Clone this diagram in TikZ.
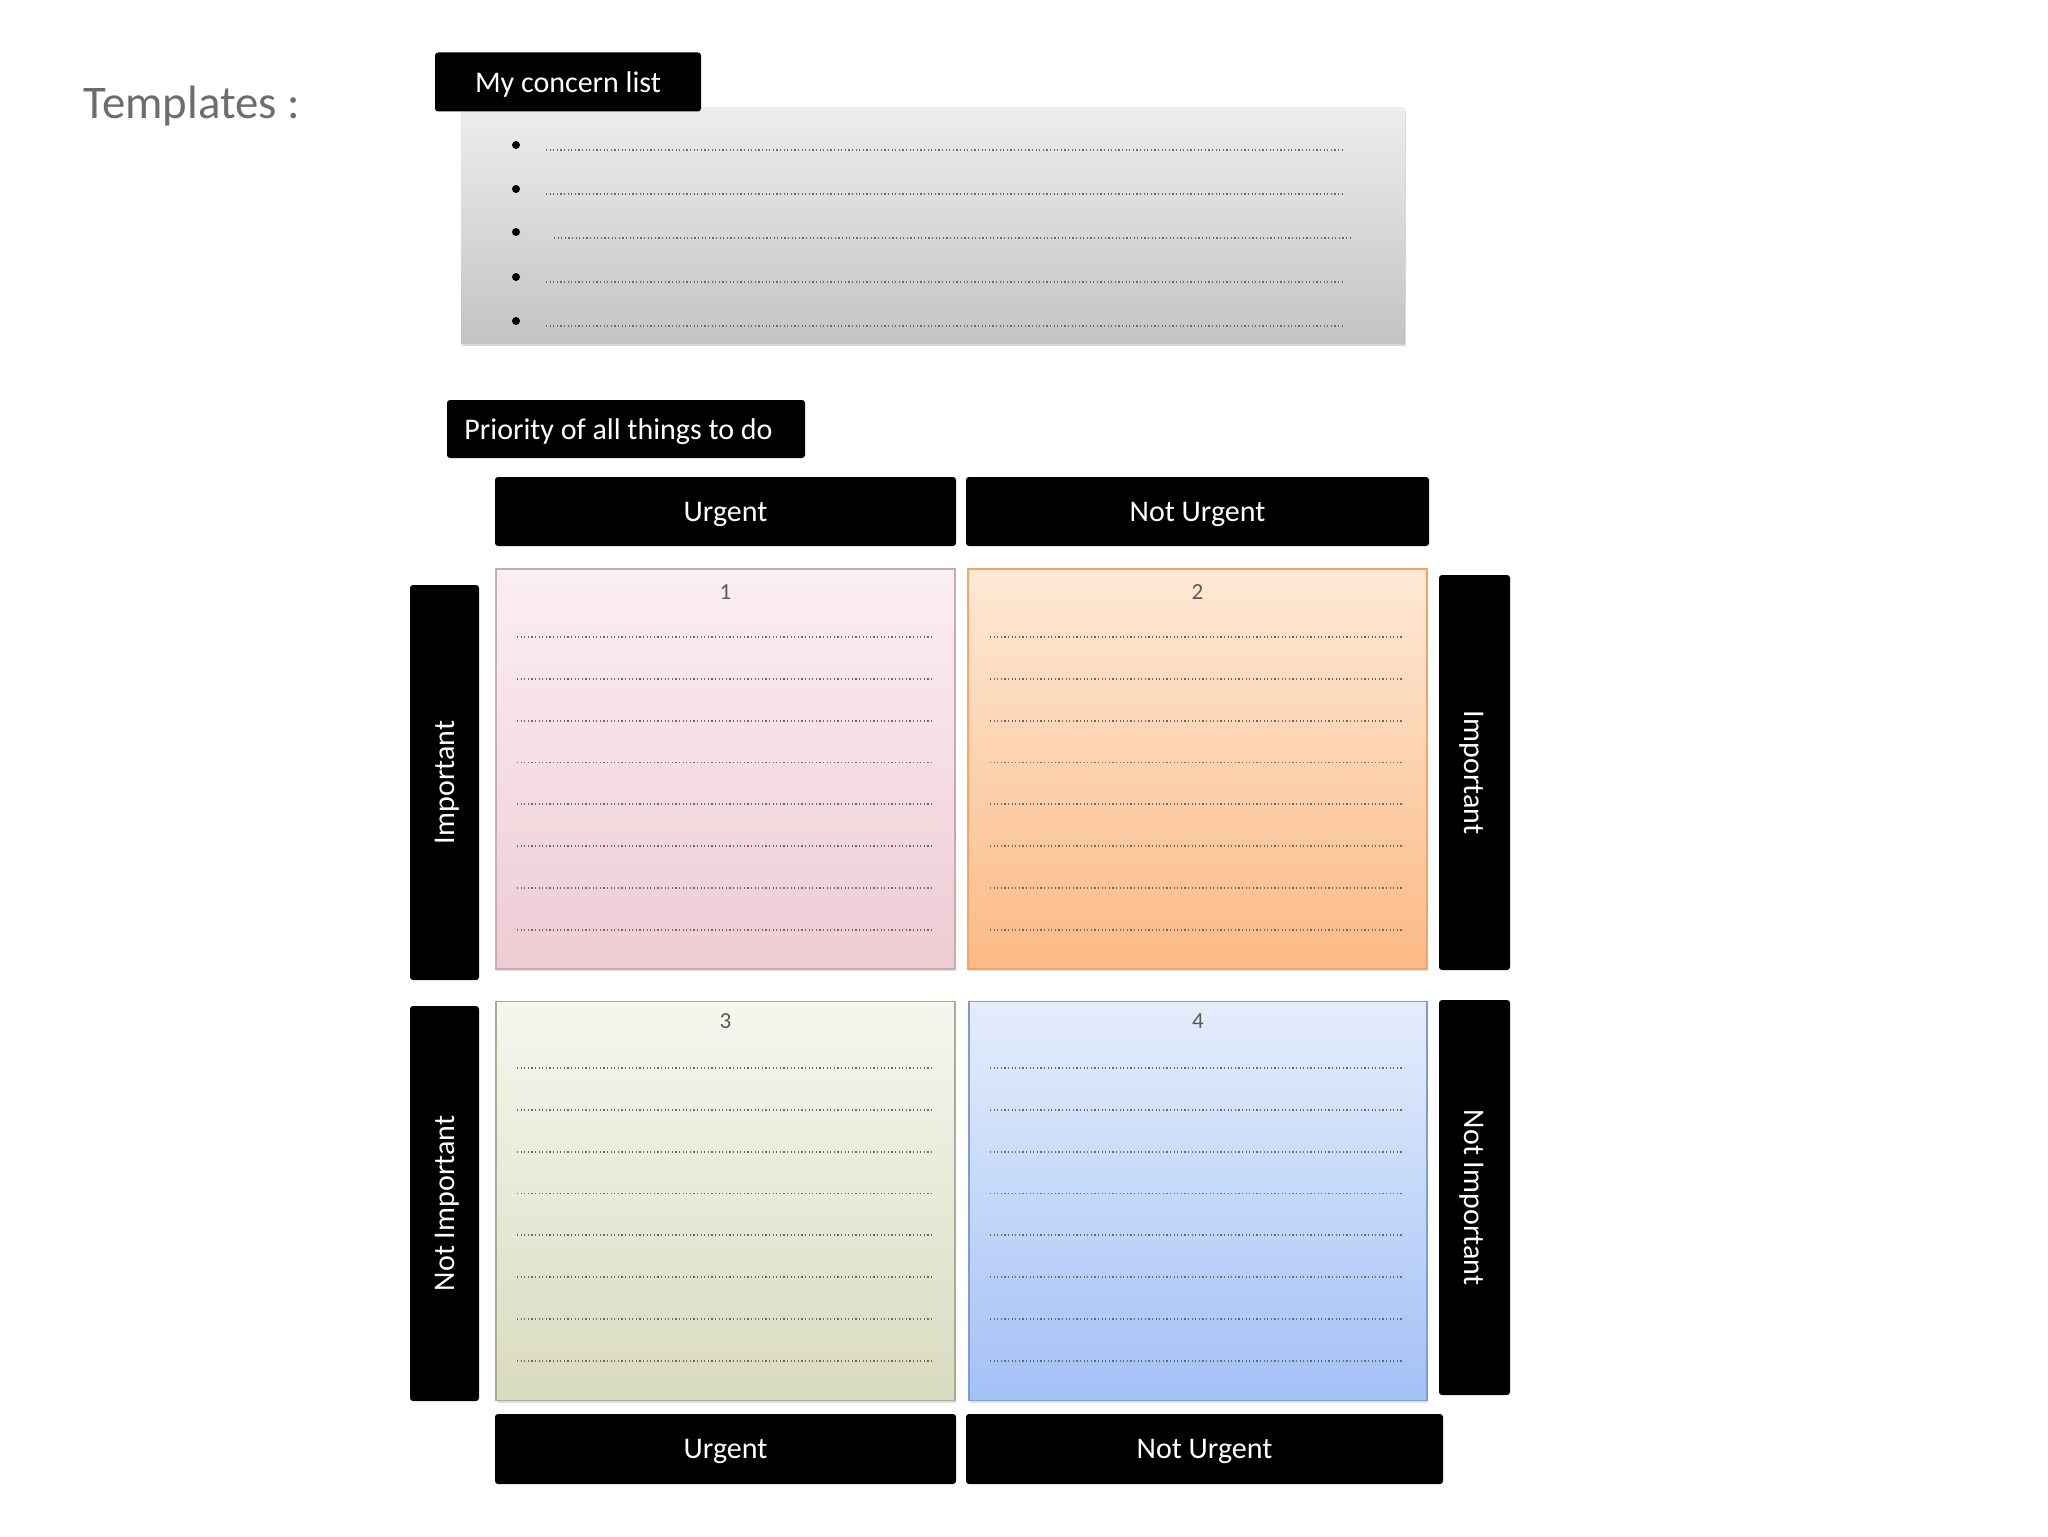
\documentclass[tikz,border=0pt]{standalone}
\usepackage{fontspec}
\setmainfont{Carlito}
\usetikzlibrary{shadows}
\definecolor{tplgray}{HTML}{6D6D6D}
\definecolor{dotgray}{HTML}{6A6A6A}
\definecolor{numgray}{HTML}{5A5A5A}
\definecolor{panelTop}{HTML}{EDEDED}
\definecolor{panelBot}{HTML}{C3C3C3}
\definecolor{qaTop}{HTML}{FBEFF3}
\definecolor{qaBot}{HTML}{EECBD3}
\definecolor{qaLine}{HTML}{C9AAB3}
\definecolor{qbTop}{HTML}{FEE9D6}
\definecolor{qbBot}{HTML}{FBBA85}
\definecolor{qbLine}{HTML}{F3A365}
\definecolor{qcTop}{HTML}{F6F6EF}
\definecolor{qcBot}{HTML}{D9DBBF}
\definecolor{qcLine}{HTML}{A9AB92}
\definecolor{qdTop}{HTML}{E5EDFC}
\definecolor{qdBot}{HTML}{A3C1F6}
\definecolor{qdLine}{HTML}{7C9CD2}
\begin{document}
\begin{tikzpicture}[x=0.5pt,y=-0.5pt,
  blackbox/.style={fill=black, rounded corners=1.5pt, text=white, inner sep=0pt, outer sep=0pt, text depth=0pt, font=\fontsize{15}{18}\selectfont},
  quad/.style={inner sep=0pt, outer sep=0pt, line width=0.6pt, minimum width=229.5pt, minimum height=199.5pt, drop shadow={opacity=0.25,shadow xshift=0.6pt,shadow yshift=-1.2pt}},
  panelbox/.style={inner sep=0pt, outer sep=0pt, top color=panelTop, bottom color=panelBot, drop shadow={opacity=0.3,shadow xshift=0.3pt,shadow yshift=-1.4pt}},
  dotline/.style={draw=dotgray, line width=0.9pt, dash pattern=on 0.55pt off 1.25pt},
  num/.style={text=numgray, font=\fontsize{11.5}{13}\selectfont, inner sep=0pt}]
\fill[white] (0,0) rectangle (2048,1536);
\useasboundingbox (0,0) rectangle (2048,1536);

% title
\node[anchor=base west, inner sep=0pt, text=tplgray, font=\fontsize{23.4}{28}\selectfont] (templates) at (83,119) {Templates :};

% concern list
\node[panelbox, minimum width=472pt, minimum height=117.5pt] (list) at (933,225.5) {};
\node[blackbox, minimum width=133pt, minimum height=29.5pt] (concern) at (568,82) {My concern list};
\foreach \y in {145,189,232,277,321} \fill[black] (516,\y) circle (4);
\foreach \y in {150,194,282,326} \draw[dotline] (546,\y) -- (1345,\y);
\draw[dotline] (554,238) -- (1353,238);

% priority
\node[blackbox, minimum width=179pt, minimum height=29pt] (priority) at (626,429) {};
\node[anchor=west, inner sep=0pt, text=white, font=\fontsize{15}{18}\selectfont] (prioritytext) at (464,432) {Priority of all things to do};

% column headers
\node[blackbox, minimum width=230.5pt, minimum height=34.5pt] (urgtop) at (725.5,511.5) {Urgent};
\node[blackbox, minimum width=231.5pt, minimum height=34.5pt] (nurgtop) at (1197.5,511.5) {Not Urgent};

% quadrants
\node[quad, draw=qaLine, top color=qaTop, bottom color=qaBot, minimum height=200pt] (q1) at (725.5,769) {};
\node[quad, draw=qbLine, top color=qbTop, bottom color=qbBot, minimum height=200pt] (q2) at (1197.5,769) {};
\node[quad, draw=qcLine, top color=qcTop, bottom color=qcBot] (q3) at (725.5,1201) {};
\node[quad, draw=qdLine, top color=qdTop, bottom color=qdBot, minimum width=229pt] (q4) at (1198,1201) {};

\node[num] (n1) at (725.5,592) {1};
\node[num] (n2) at (1197.5,592) {2};
\node[num] (n3) at (725.5,1021) {3};
\node[num] (n4) at (1198,1021) {4};

\foreach \k in {0,...,7} {
  \draw[dotline] (517,{637+41.8*\k}) -- (932,{637+41.8*\k});
  \draw[dotline] (990,{637+41.8*\k}) -- (1404,{637+41.8*\k});
  \draw[dotline] (517,{1068+41.8*\k}) -- (932,{1068+41.8*\k});
  \draw[dotline] (990,{1068+41.8*\k}) -- (1404,{1068+41.8*\k});
}

% row labels
\node[blackbox, rotate=90, minimum width=197.5pt, minimum height=34.5pt] (impl) at (444.5,782.5) {Important};
\node[blackbox, rotate=90, minimum width=197.5pt, minimum height=34.5pt] (nimpl) at (444.5,1203.5) {Not Important};
\node[blackbox, rotate=-90, minimum width=197.5pt, minimum height=35.5pt] (impr) at (1474.5,772.5) {Important};
\node[blackbox, rotate=-90, minimum width=197.5pt, minimum height=35.5pt] (nimpr) at (1474.5,1197.5) {Not Important};

% bottom headers
\node[blackbox, minimum width=230.5pt, minimum height=35pt] (urgbot) at (725.5,1449) {Urgent};
\node[blackbox, minimum width=238.5pt, minimum height=35pt] (nurgbot) at (1204.5,1449) {Not Urgent};
\end{tikzpicture}
\end{document}
